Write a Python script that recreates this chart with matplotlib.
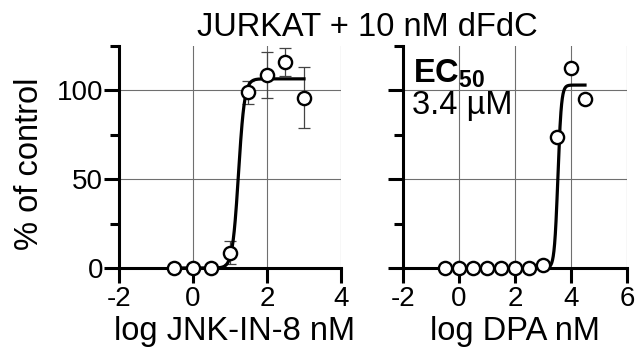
import numpy as np
import matplotlib
matplotlib.use("Agg")
import matplotlib.pyplot as plt
from matplotlib.ticker import MultipleLocator

plt.rcParams['font.family'] = ['Liberation Sans', 'DejaVu Sans']
plt.rcParams['axes.unicode_minus'] = False
plt.rcParams['mathtext.fontset'] = 'custom'
plt.rcParams['mathtext.rm'] = 'Liberation Sans'
plt.rcParams['mathtext.bf'] = 'Liberation Sans:bold'

# JNK-IN-8 dose response (log nM, % of control, SD)
jnk_x = [-0.5, 0.0, 0.5, 1.0, 1.5, 2.0, 2.5, 3.0]
jnk_y = [0.0, 0.0, 0.0, 8.5, 99.0, 108.5, 116.0, 96.0]
jnk_err = [0.0, 0.0, 0.0, 6.5, 6.5, 13.0, 8.0, 17.0]
jnk_top = 106.5
jnk_logec50 = 1.23
jnk_hill = 5.3

# DPA dose response (log nM, % of control)
dpa_x = [-0.5, 0.0, 0.5, 1.0, 1.5, 2.0, 2.5, 3.0, 3.5, 4.0, 4.5]
dpa_y = [0.0, 0.0, 0.0, 0.0, 0.0, 0.0, 0.0, 1.5, 73.5, 112.5, 95.0]
dpa_top = 103.0
dpa_ec50_um = 3.4
dpa_hill = 7.0

title = "JURKAT + 10 nM dFdC"


def logistic(x, top, logec, hill):
    return top / (1.0 + 10.0 ** ((logec - x) * hill))


fig = plt.figure(figsize=(6.36, 3.6), dpi=100)
ax1 = fig.add_axes([119 / 636, 1 - 268 / 360, 222 / 636, 222 / 360])
ax2 = fig.add_axes([403 / 636, 1 - 268 / 360, 224 / 636, 222 / 360])

fs = 20
lfs = 23.5


def style(ax, xlim, xticks):
    ax.set_xlim(*xlim)
    ax.set_ylim(0, 125)
    ax.set_xticks(xticks)
    ax.set_yticks([0, 50, 100])
    ax.yaxis.set_minor_locator(MultipleLocator(25))
    for s in ("top", "right"):
        ax.spines[s].set_visible(False)
    for s in ("left", "bottom"):
        ax.spines[s].set_linewidth(2.2)
    ax.tick_params(axis="both", which="major", direction="out", length=11,
                   width=2.2, labelsize=fs)
    ax.tick_params(axis="x", which="major", pad=2)
    ax.tick_params(axis="y", which="major", pad=0.5)
    ax.tick_params(axis="y", which="minor", direction="out", length=6.5, width=2.2)
    ax.grid(True, which="major", color="#6f6f6f", linewidth=0.8)
    ax.set_axisbelow(True)


style(ax1, (-2, 4), [-2, 0, 2, 4])
style(ax2, (-2, 6), [-2, 0, 2, 4, 6])
ax2.tick_params(axis="y", which="major", labelleft=False)

# left panel: fitted curve, error bars, points
xc = np.linspace(-0.5, 3.0, 400)
ax1.plot(xc, logistic(xc, jnk_top, jnk_logec50, jnk_hill), color="black",
         lw=2.3, zorder=3, clip_on=False)
ax1.errorbar(jnk_x, jnk_y, yerr=jnk_err, fmt="none", ecolor="#444444",
             elinewidth=0.9, capsize=4.5, capthick=0.9, zorder=2, clip_on=False)
ax1.plot(jnk_x, jnk_y, "o", ms=9.5, mfc="white", mec="black", mew=1.7,
         zorder=4, clip_on=False)

# right panel: fitted curve and points
dpa_logec50 = np.log10(dpa_ec50_um * 1e3)
xc2 = np.linspace(-0.5, 4.5, 600)
ax2.plot(xc2, logistic(xc2, dpa_top, dpa_logec50, dpa_hill), color="black",
         lw=2.3, zorder=3, clip_on=False)
ax2.plot(dpa_x, dpa_y, "o", ms=9.5, mfc="white", mec="black", mew=1.7,
         zorder=4, clip_on=False)

ax2.text(0.045, 0.875, r"$\mathbf{EC_{50}}$", transform=ax2.transAxes,
         fontsize=lfs, ha="left", va="center")
ax2.text(0.04, 0.73, f"{dpa_ec50_um} µM", transform=ax2.transAxes,
         fontsize=lfs, ha="left", va="center")

ax1.set_ylabel("% of control", fontsize=lfs)
ax1.yaxis.set_label_coords(-0.335, 0.47)
ax1.set_xlabel("log JNK-IN-8 nM", fontsize=lfs, labelpad=2)
ax1.xaxis.set_label_coords(0.52, -0.215)
ax2.set_xlabel("log DPA nM", fontsize=lfs, labelpad=2)
ax2.xaxis.set_label_coords(0.5, -0.215)
fig.text(0.577, 0.925, title, fontsize=lfs, ha="center", va="center")

fig.savefig("out.png", dpi=100)
